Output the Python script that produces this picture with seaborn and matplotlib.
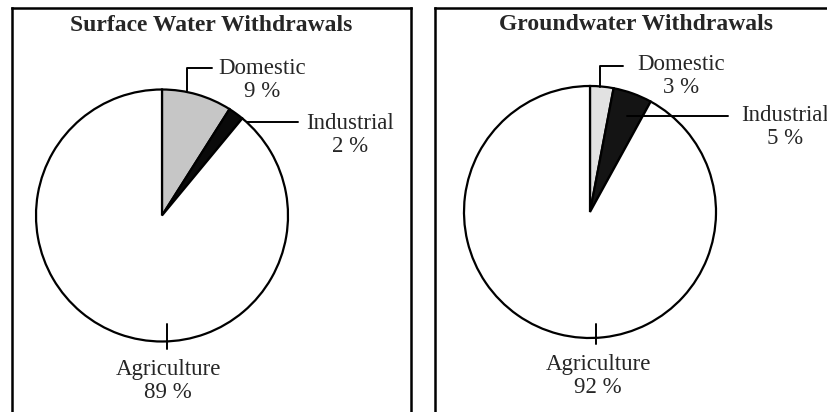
import numpy as np
import matplotlib
matplotlib.use("Agg")
import matplotlib.pyplot as plt
import seaborn as sns

# data
categories = ["Domestic", "Industrial", "Agriculture"]
surface_pct = [9, 2, 89]
ground_pct = [3, 5, 92]
titles = ["Surface Water Withdrawals", "Groundwater Withdrawals"]

sns.set_style("white")
plt.rcParams['font.family'] = ['Liberation Serif', 'DejaVu Serif']

W, H = 828, 412
fig = plt.figure(figsize=(W / 100, H / 100), dpi=100)


def make_panel(x0, x1, top):
    # axes whose data units are image pixels (y measured up from image bottom)
    ax = fig.add_axes([x0 / W, 0, (x1 - x0) / W, (H - top) / H])
    return ax, (x0, x1, 0, H - top)


def py(y):
    return H - y


panels = [
    dict(x0=12, x1=411, vals=surface_pct, cx=162, cy=215.5, r=126,
         colors=["#c6c6c6", "#0a0a0a", "white"],
         title_xy=(211, 25),
         dom_txt=(262, 80), dom_lead=[(187, 91), (187, 68), (212, 68)],
         ind_txt=(350, 135), ind_lead=[(247, 122), (298, 122)],
         agr_txt=(168, 381), agr_lead=[(167, 324), (167, 349)]),
    dict(x0=435, x1=840, vals=ground_pct, cx=590, cy=212, r=126,
         colors=["#e2e2e2", "#141414", "white"],
         title_xy=(636, 25),
         dom_txt=(681, 76), dom_lead=[(600, 87), (600, 66), (623, 66)],
         ind_txt=(785, 127), ind_lead=[(627, 116), (728, 116)],
         agr_txt=(598, 376), agr_lead=[(596, 324), (596, 344)]),
]

for p, title in zip(panels, titles):
    ax, lims = make_panel(p["x0"], p["x1"], 8)
    ax.pie(p["vals"], colors=p["colors"], startangle=90, counterclock=False,
           center=(p["cx"], py(p["cy"])), radius=p["r"],
           wedgeprops=dict(edgecolor="black", linewidth=1.6))
    ax.set_xlim(lims[0], lims[1])
    ax.set_ylim(lims[2], lims[3])
    ax.set_aspect("equal", adjustable="box")
    ax.set_frame_on(True)
    for s in ["left", "top", "right"]:
        ax.spines[s].set_visible(True)
        ax.spines[s].set_color("black")
        ax.spines[s].set_linewidth(1.8)
    ax.spines["bottom"].set_visible(False)
    ax.set_xticks([])
    ax.set_yticks([])

    ax.text(p["title_xy"][0], py(p["title_xy"][1]), title, ha="center",
            va="center", fontsize=17, fontweight="bold")

    for key, name, v in zip(["dom", "ind", "agr"], categories, p["vals"]):
        tx, ty = p[key + "_txt"]
        ax.text(tx, py(ty), f"{name}\n{v} %", ha="center", va="center",
                fontsize=16.5, linespacing=1.12)
        pts = np.array(p[key + "_lead"], dtype=float)
        ax.plot(pts[:, 0], H - pts[:, 1], color="black", lw=1.4,
                clip_on=False)

fig.savefig("out.png", dpi=100, facecolor="white")
